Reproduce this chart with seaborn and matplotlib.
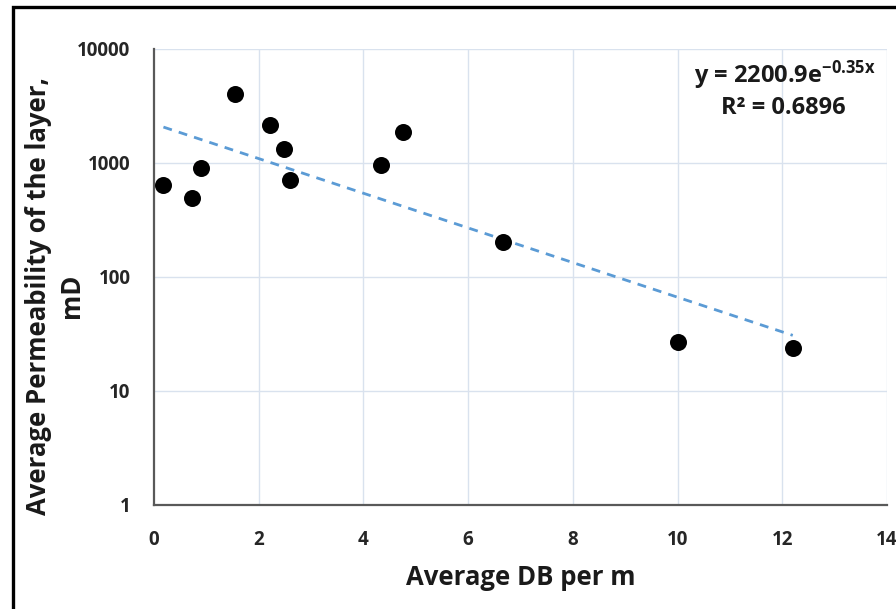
import numpy as np
import pandas as pd
import matplotlib
matplotlib.use("Agg")
import matplotlib.pyplot as plt
from matplotlib.patches import Rectangle
from matplotlib.ticker import FixedLocator, FixedFormatter, NullLocator
import seaborn as sns

# ---- data ----
db_per_m = [0.18, 0.73, 0.89, 1.55, 2.21, 2.49, 2.59, 4.34, 4.75, 6.66, 10.0, 12.2]
permeability = [641, 493, 904, 4030, 2133, 1327, 709, 960, 1871, 203, 26.9, 23.8]
fit_a = 2200.9
fit_b = -0.35
r_squared = 0.6896
x_ticks = [0, 2, 4, 6, 8, 10, 12, 14]
y_ticks = [1, 10, 100, 1000, 10000]
y_tick_labels = ["1", "10", "100", "1000", "10000"]

sns.set_theme(style="white")
plt.rcParams["font.family"] = ["Open Sans", "DejaVu Sans"]
plt.rcParams["mathtext.fontset"] = "custom"
plt.rcParams["mathtext.rm"] = "Open Sans:bold"
plt.rcParams["mathtext.it"] = "Open Sans:bold"
plt.rcParams["mathtext.bf"] = "Open Sans:bold"

df = pd.DataFrame({"x": db_per_m, "y": permeability})
x_fit = np.linspace(min(db_per_m), max(db_per_m), 100)
fit_df = pd.DataFrame({"x": x_fit, "y": fit_a * np.exp(fit_b * x_fit)})

fig = plt.figure(figsize=(8.96, 6.09), dpi=100)
ax = fig.add_axes([154 / 896, 1 - 505 / 609, 733 / 896, 456 / 609])

grid_c = "#d9e2ee"
for xv in x_ticks[1:]:
    ax.axvline(xv, color=grid_c, lw=1.0, zorder=0)
for yv in y_ticks[1:]:
    ax.axhline(yv, color=grid_c, lw=1.0, zorder=0)

sns.lineplot(data=fit_df, x="x", y="y", ax=ax, color="#5b9bd5", lw=2.0,
             linestyle=(0, (3.2, 2.6)), zorder=2)
sns.scatterplot(data=df, x="x", y="y", ax=ax, color="black", s=150,
                edgecolor="black", linewidth=0, zorder=3)

ax.set_yscale("log")
ax.set_xlim(0, 14)
ax.set_ylim(1, 10000)
ax.xaxis.set_major_locator(FixedLocator(x_ticks))
ax.yaxis.set_major_locator(FixedLocator(y_ticks))
ax.yaxis.set_major_formatter(FixedFormatter(y_tick_labels))
ax.yaxis.set_minor_locator(NullLocator())
ax.tick_params(axis="both", length=0, labelsize=13.5, colors="#262626")
ax.tick_params(axis="x", pad=18)
ax.tick_params(axis="y", pad=17)
for lab in ax.get_xticklabels() + ax.get_yticklabels():
    lab.set_fontweight("bold")

for s in ["top", "right"]:
    ax.spines[s].set_visible(False)
for s in ["left", "bottom"]:
    ax.spines[s].set_color("#595959")
    ax.spines[s].set_linewidth(1.6)

ax.set_xlabel("Average DB per m", fontsize=18.5, fontweight="bold", color="#1a1a1a", labelpad=10)
ax.set_ylabel("Average Permeability of the layer,\nmD", fontsize=18.5, fontweight="bold",
              color="#1a1a1a", linespacing=1.3)
ax.yaxis.set_label_coords(-0.094, 0.458)

ax.text(0.86, 0.943, r"y = 2200.9e$^{-0.35x}$", transform=ax.transAxes,
        ha="center", va="center", fontsize=17, fontweight="bold", color="#1a1a1a")
ax.text(0.858, 0.871, f"R² = {r_squared}", transform=ax.transAxes,
        ha="center", va="center", fontsize=17, fontweight="bold", color="#1a1a1a")

fig.patches.append(Rectangle((13 / 896, -0.1), 1.2, 1.1 - 7 / 609,
                             transform=fig.transFigure, fill=False,
                             edgecolor="black", lw=2.4, zorder=10))

fig.savefig("out.png", dpi=100, facecolor="white")
